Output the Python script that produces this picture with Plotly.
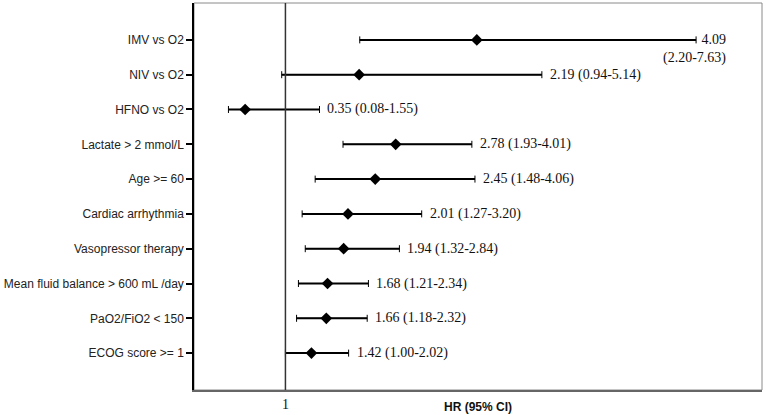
import plotly.graph_objects as go

# rows from top to bottom
labels = ["IMV vs O2", "NIV vs O2", "HFNO vs O2", "Lactate > 2 mmol/L", "Age >= 60",
          "Cardiac arrhythmia", "Vasopressor therapy", "Mean fluid balance > 600 mL /day",
          "PaO2/FiO2 < 150", "ECOG score >= 1"]
hr = [4.09, 2.19, 0.35, 2.78, 2.45, 2.01, 1.94, 1.68, 1.66, 1.42]
lower = [2.20, 0.94, 0.08, 1.93, 1.48, 1.27, 1.32, 1.21, 1.18, 1.00]
upper = [7.63, 5.14, 1.55, 4.01, 4.06, 3.20, 2.84, 2.34, 2.32, 2.02]

SERIF = "Liberation Serif, Times New Roman, serif"
SANS = "Liberation Sans, Arial, sans-serif"

fig = go.Figure()

# CI lines (thick)
seg_x, seg_y = [], []
for lab, lo, hi in zip(labels, lower, upper):
    seg_x += [lo, hi, None]
    seg_y += [lab, lab, None]
fig.add_trace(go.Scatter(x=seg_x, y=seg_y, mode="lines",
                         line=dict(color="black", width=2), hoverinfo="skip"))

# point estimates + thin caps
fig.add_trace(go.Scatter(
    x=hr, y=labels, mode="markers",
    marker=dict(symbol="diamond", size=9, color="black"),
    error_x=dict(type="data", symmetric=False,
                 array=[h - e for h, e in zip(upper, hr)],
                 arrayminus=[h - l for h, l in zip(hr, lower)],
                 color="black", thickness=1, width=3.5),
))

annotations = []
for i, (lab, h, lo, hi) in enumerate(zip(labels, hr, lower, upper)):
    if i == 0:
        # first row label wraps onto two lines
        annotations.append(dict(x=hi, y=lab, text=f"{h:.2f}<br>({lo:.2f}-{hi:.2f})",
                                xanchor="right", yanchor="top", xshift=32, yshift=10,
                                align="right", showarrow=False,
                                font=dict(family=SERIF, size=14, color="#111")))
    else:
        annotations.append(dict(x=hi, y=lab, text=f"{h:.2f} ({lo:.2f}-{hi:.2f})",
                                xanchor="left", yanchor="middle", xshift=6,
                                showarrow=False,
                                font=dict(family=SERIF, size=14, color="#111")))

annotations.append(dict(x=0.5, y=0, xref="paper", yref="paper", text="<b>HR (95% CI)</b>",
                        xanchor="center", yanchor="top", yshift=-8, showarrow=False,
                        font=dict(family=SANS, size=12, color="#111")))

fig.update_layout(
    width=766, height=415,
    margin=dict(l=194, r=4, t=3, b=23),
    paper_bgcolor="white", plot_bgcolor="white",
    showlegend=False,
    annotations=annotations,
    shapes=[
        dict(type="rect", xref="paper", yref="paper", x0=0, x1=1, y0=0, y1=1,
             line=dict(color="#8a8a8a", width=1), layer="below"),
        dict(type="line", xref="x", yref="paper", x0=1, x1=1, y0=0, y1=1,
             line=dict(color="#333", width=1.5)),
    ],
)
fig.update_xaxes(range=[-0.476, 8.694], tickvals=[1], ticktext=["1"], ticks="",
                 showgrid=False, zeroline=False, showline=True, linecolor="#666", linewidth=1.5,
                 tickfont=dict(family=SERIF, size=14, color="#111"))
fig.update_yaxes(type="category", categoryorder="array", categoryarray=labels[::-1],
                 range=[-1.06, 10.06], showgrid=False, zeroline=False,
                 showline=True, linecolor="black", linewidth=1.5,
                 ticks="outside", ticklen=6, tickwidth=1.5, tickcolor="black",
                 tickfont=dict(family=SANS, size=12, color="#222"))

# drop the default page margin so the figure sits at the window's corner
fig.write_html("out.html", config={"displayModeBar": False},
               post_script="document.body.style.margin='0';")
